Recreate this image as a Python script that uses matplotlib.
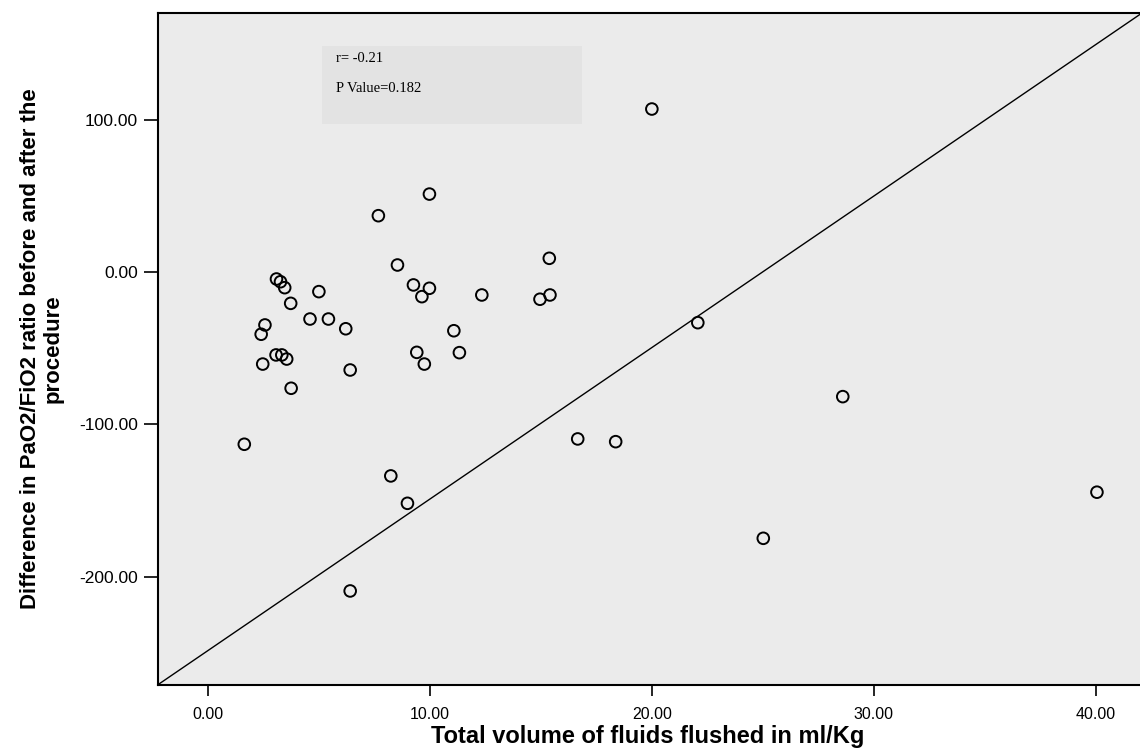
import matplotlib
matplotlib.use("Agg")
import matplotlib.pyplot as plt
from matplotlib.patches import Rectangle

# fluid volume (ml/Kg) vs change in PaO2/FiO2 ratio
volume = [1.64, 3.09, 3.27, 3.46, 5.00, 3.73, 4.60, 5.43, 6.21, 2.57,
          2.40, 11.08, 3.07, 3.33, 3.55, 2.47, 9.41, 11.33, 9.75, 6.41,
          3.75, 8.24, 8.99, 6.41, 9.98, 7.68, 8.54, 9.26, 9.98, 9.64,
          12.34, 15.38, 15.41, 14.96, 20.00, 22.07, 16.66, 18.37, 28.60, 25.02,
          40.05]
diff = [-113.0, -4.4, -6.2, -10.1, -12.7, -20.4, -30.7, -30.7, -37.1, -34.6,
        -40.7, -38.4, -54.3, -54.3, -57.0, -60.3, -52.6, -52.8, -60.3, -64.2,
        -76.2, -133.8, -151.8, -209.4, 51.4, 37.2, 4.8, -8.3, -10.5, -16.0,
        -14.9, 9.2, -14.9, -17.7, 107.3, -33.1, -109.5, -111.3, -81.7, -174.8,
        -144.5]
x_ticks = [0, 10, 20, 30, 40]
y_ticks = [-200, -100, 0, 100]
r_text = "r= -0.21"
p_text = "P Value=0.182"

SANS = "Liberation Sans"
BG = "#ebebeb"

fig = plt.figure(figsize=(11.4, 7.49), dpi=100, facecolor="white")
W, H = 1140, 749
L, R, T, B = 157.5, 1142, 13, 685
ax = fig.add_axes([L / W, 1 - B / H, (R - L) / W, (B - T) / H], facecolor=BG)

ax.scatter(volume, diff, s=70, facecolors="none", edgecolors="black",
           linewidths=1.4, zorder=3)
ax.plot([0, 1], [0, 1], transform=ax.transAxes, color="black", lw=1.0, zorder=2)

ax.set_xlim(-2.27, 42.08)
ax.set_ylim(-271.2, 170.4)
ax.set_xticks(x_ticks)
ax.set_xticklabels([f"{v:.2f}" for v in x_ticks], family=SANS, fontsize=11.5)
ax.set_yticks(y_ticks)
ax.set_yticklabels([f"{v:.2f}" for v in y_ticks], family=SANS, fontsize=12.5)
ax.tick_params(axis="x", length=8, width=1.2, pad=8)
ax.tick_params(axis="y", length=10, width=1.2, pad=4)
for s in ax.spines.values():
    s.set_linewidth(1.5)

fig.text(648 / W, 1 - 736 / H, "Total volume of fluids flushed in ml/Kg",
         family=SANS, fontsize=17, fontweight="bold", ha="center", va="center")
ax.set_ylabel("Difference in PaO2/FiO2 ratio before and after the\nprocedure",
              family=SANS, fontsize=16, fontweight="bold", labelpad=11,
              linespacing=1.1)

# stats box
ax.add_patch(Rectangle((0.1668, 0.8348), 0.2644, 0.1165, transform=ax.transAxes,
                       facecolor="#e3e3e3", edgecolor="none", zorder=1))
ax.text(0.1813, 0.933, r_text, transform=ax.transAxes, family="Liberation Serif",
        fontsize=10.5, va="center", ha="left")
ax.text(0.1813, 0.887, p_text, transform=ax.transAxes, family="Liberation Serif",
        fontsize=10.5, va="center", ha="left")

fig.savefig("out.png", dpi=100, facecolor="white")
